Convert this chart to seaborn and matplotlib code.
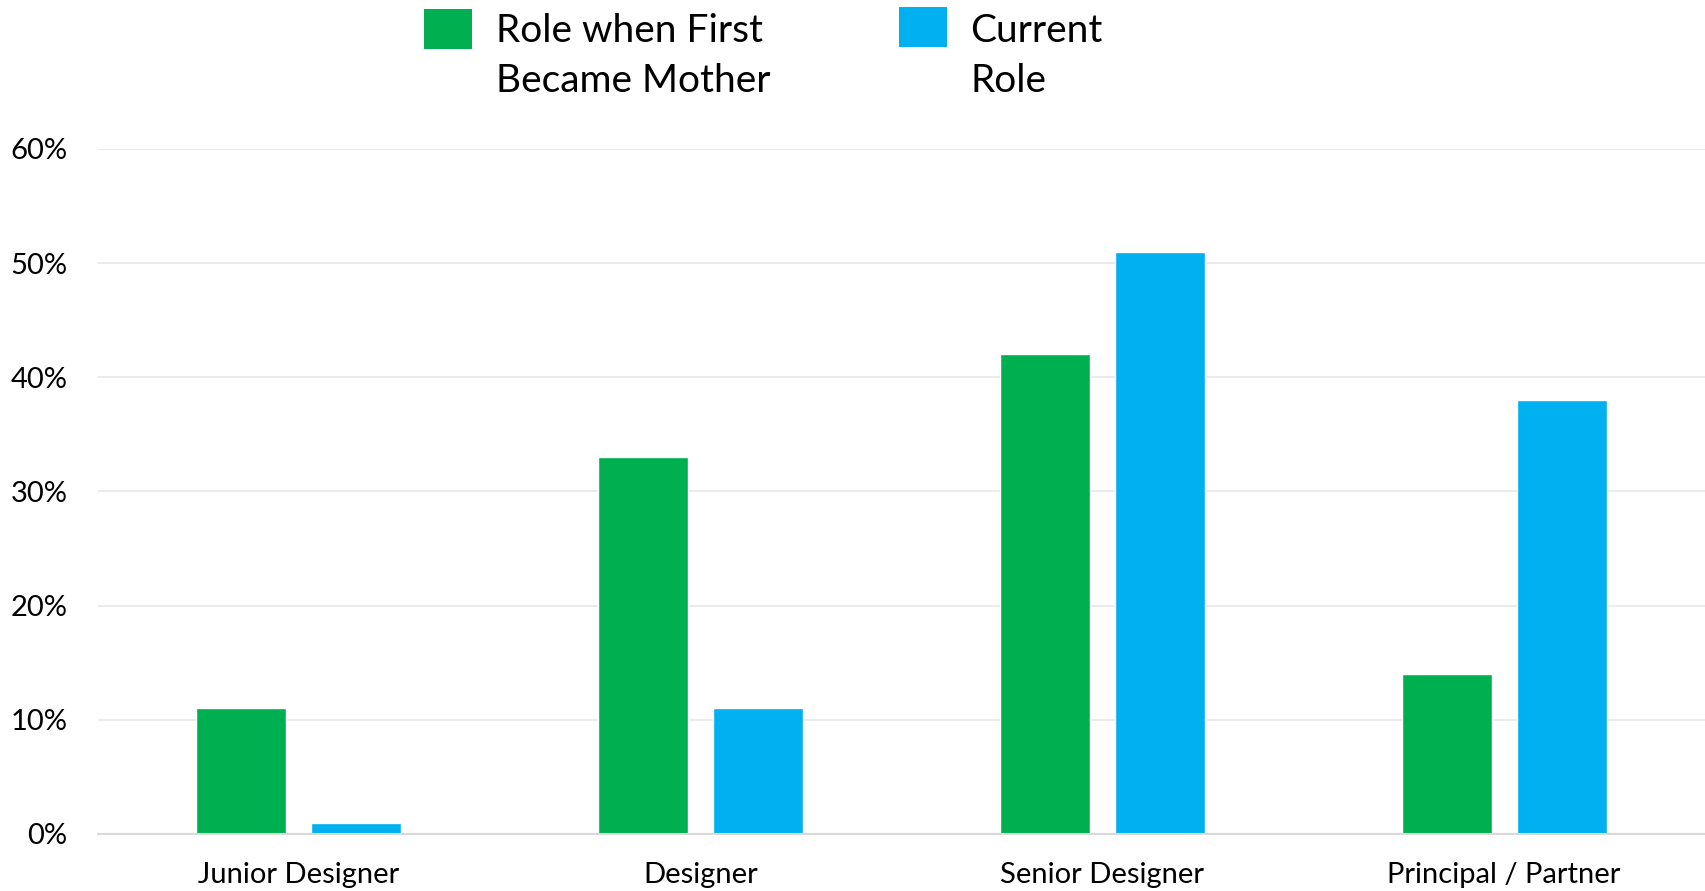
import matplotlib
matplotlib.use("Agg")
import matplotlib.pyplot as plt
import seaborn as sns
import pandas as pd
from matplotlib.ticker import PercentFormatter
from matplotlib.patches import Rectangle

categories = ["Junior Designer", "Designer", "Senior Designer", "Principal / Partner"]
series_names = ["Role when First\nBecame Mother", "Current\nRole"]
first_mother = [0.11, 0.33, 0.42, 0.14]
current_role = [0.01, 0.11, 0.51, 0.38]
colors = ["#00B050", "#00B0F0"]

df = pd.DataFrame({
    "category": categories * 2,
    "series": [series_names[0]] * 4 + [series_names[1]] * 4,
    "value": first_mother + current_role,
})

sns.set_theme(style="white")
plt.rcParams['font.family'] = ['Lato', 'DejaVu Sans']

W, H = 1705, 891
fig = plt.figure(figsize=(W / 100, H / 100), dpi=100)
ax = fig.add_axes([98 / W, 1 - 834 / H, 1 - 98 / W, (834 - 149) / H])

sns.barplot(data=df, x="category", y="value", hue="series", order=categories,
            hue_order=series_names, palette=colors, width=0.573, gap=0.217,
            saturation=1, ax=ax, legend=False)

ax.set_ylim(0, 0.6)
ax.set_xlim(-0.5, 3.5)
ax.set_yticks([0, 0.1, 0.2, 0.3, 0.4, 0.5, 0.6])
ax.yaxis.set_major_formatter(PercentFormatter(1.0, decimals=0))
ax.grid(axis="y", color="#EBEBEB", linewidth=1.5)
ax.set_axisbelow(True)
for s in ["top", "right", "left"]:
    ax.spines[s].set_visible(False)
ax.spines["bottom"].set_color("#D9D9D9")
ax.spines["bottom"].set_linewidth(1.5)
ax.tick_params(axis="both", length=0, labelsize=21, colors="black")
ax.tick_params(axis="y", pad=22)
ax.tick_params(axis="x", pad=20)
ax.set_xlabel("")
ax.set_ylabel("")

# Legend (two entries, swatch aligned with first text line)
legend_swatch_x = [424, 899]
legend_swatch_y = [9, 7]
legend_text_x = [496, 970]
for name, c, sx, sy, tx in zip(series_names, colors, legend_swatch_x, legend_swatch_y, legend_text_x):
    fig.patches.append(Rectangle((sx / W, 1 - (sy + 40) / H), 48 / W, 40 / H,
                                 transform=fig.transFigure, facecolor=c,
                                 edgecolor="none"))
    fig.text(tx / W, 1 - 13 / H, name, fontsize=28, va="top", ha="left",
             linespacing=1.47, color="black")

fig.savefig("out.png", dpi=100)
